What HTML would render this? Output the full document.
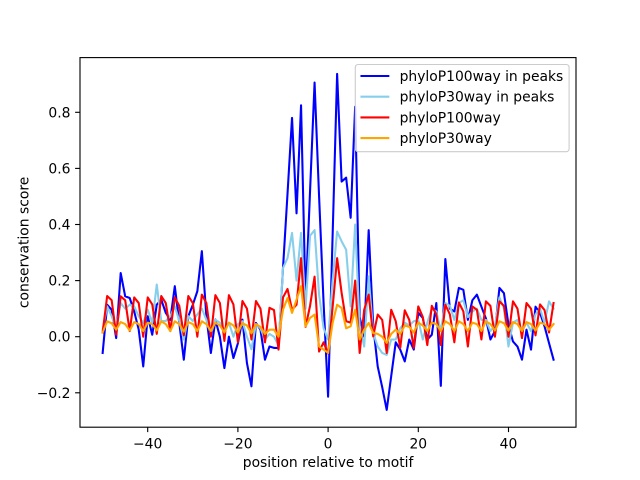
<!DOCTYPE html>
<html><head><meta charset="utf-8"><style>
html,body{margin:0;padding:0;background:#fff;}
svg{display:block;}
text{font-family:"DejaVu Sans","Liberation Sans",sans-serif;fill:#000;}
</style></head><body>
<svg width="640" height="480" viewBox="0 0 640 480" xmlns="http://www.w3.org/2000/svg">
<rect x="0" y="0" width="640" height="480" fill="#fff"/>
<g transform="translate(328.1,336.7) scale(4.509,-280.5)" fill="none" stroke-width="2.08" stroke-linejoin="round" stroke-linecap="square">
<polyline vector-effect="non-scaling-stroke" stroke="#0000ff" points="-50,-0.058 -49,0.114 -48,0.096 -47,-0.005 -46,0.227 -45,0.144 -44,0.138 -43,0.09 -42,0.025 -41,-0.106 -40,0.073 -39,0.007 -38,0.114 -37,0.132 -36,0.085 -35,0.06 -34,0.18 -33,0.049 -32,-0.082 -31,0.073 -30,0.114 -29,0.162 -28,0.305 -27,0.073 -26,-0.058 -25,0.061 -24,0.0 -23,-0.112 -22,0.0 -21,-0.076 -20,-0.023 -19,0.061 -18,-0.094 -17,-0.177 -16,0.049 -15,0.025 -14,-0.082 -13,-0.035 -12,-0.04 -11,-0.04 -10,0.245 -9,0.51 -8,0.78 -7,0.44 -6,0.825 -5,0.13 -4,0.52 -3,0.906 -2,0.5 -1,0.12 0,-0.214 1,0.36 2,0.937 3,0.553 4,0.567 5,0.424 6,0.82 7,0.07 8,0.0 9,0.38 10,0.04 11,-0.106 12,-0.18 13,-0.261 14,-0.14 15,-0.02 16,-0.046 17,-0.088 18,-0.01 19,-0.046 20,0.085 21,0.067 22,-0.01 23,0.007 24,0.12 25,-0.175 26,0.277 27,0.1 28,0.09 29,0.174 30,0.167 31,0.06 32,0.13 33,0.15 34,0.107 35,0.065 36,-0.01 37,0.02 38,0.174 39,0.155 40,0.043 41,-0.017 42,-0.035 43,-0.082 44,0.025 45,-0.046 46,0.107 47,0.085 48,0.037 49,-0.023 50,-0.082"/>
<polyline vector-effect="non-scaling-stroke" stroke="#87ceeb" points="-50,0.025 -49,0.108 -48,0.073 -47,0.03 -46,0.12 -45,0.1 -44,0.114 -43,0.108 -42,0.073 -41,0.049 -40,0.096 -39,0.05 -38,0.186 -37,0.056 -36,0.056 -35,0.073 -34,0.108 -33,0.056 -32,-0.01 -31,0.073 -30,0.056 -29,0.08 -28,0.1 -27,0.06 -26,0.01 -25,0.06 -24,0.05 -23,0.025 -22,0.05 -21,0.0 -20,0.045 -19,0.055 -18,0.0 -17,-0.045 -16,0.045 -15,0.03 -14,-0.01 -13,0.01 -12,0.0 -11,-0.03 -10,0.245 -9,0.28 -8,0.37 -7,0.2 -6,0.37 -5,0.1 -4,0.36 -3,0.38 -2,0.15 -1,0.03 0,-0.01 1,0.2 2,0.375 3,0.34 4,0.31 5,0.108 6,0.4 7,0.037 8,-0.035 9,0.215 10,0.013 11,-0.035 12,-0.058 13,-0.065 14,-0.01 15,-0.01 16,0.03 17,0.05 18,0.04 19,0.055 20,0.06 21,-0.01 22,0.05 23,0.1 24,0.09 25,0.02 26,0.12 27,0.11 28,0.06 29,0.12 30,0.13 31,0.07 32,0.09 33,0.1 34,0.06 35,0.06 36,0.02 37,0.04 38,0.14 39,0.1 40,-0.035 41,0.05 42,0.06 43,0.02 44,0.05 45,0.02 46,0.08 47,0.1 48,0.05 49,0.126 50,0.1"/>
<polyline vector-effect="non-scaling-stroke" stroke="#ff0000" points="-50,0.015 -49,0.145 -48,0.13 -47,0.007 -46,0.144 -45,0.13 -44,0.02 -43,0.14 -42,0.12 -41,0.0 -40,0.14 -39,0.115 -38,0.01 -37,0.145 -36,0.12 -35,0.02 -34,0.14 -33,0.11 -32,0.005 -31,0.145 -30,0.12 -29,0.0 -28,0.15 -27,0.12 -26,0.0 -25,0.148 -24,0.12 -23,-0.015 -22,0.148 -21,0.115 -20,-0.02 -19,0.127 -18,0.1 -17,-0.01 -16,0.127 -15,0.1 -14,-0.02 -13,0.103 -12,0.095 -11,-0.046 -10,0.14 -9,0.17 -8,0.096 -7,0.114 -6,0.28 -5,0.035 -4,0.11 -3,0.214 -2,-0.053 -1,-0.02 0,-0.06 1,0.105 2,0.28 3,0.156 4,0.055 5,0.05 6,0.2 7,-0.058 8,0.096 9,0.15 10,0.001 11,0.079 12,0.06 13,-0.058 14,0.096 15,0.055 16,-0.04 17,0.094 18,0.06 19,-0.04 20,0.108 21,0.07 22,-0.03 23,0.11 24,0.08 25,-0.03 26,0.114 27,0.08 28,-0.02 29,0.122 30,0.09 31,-0.035 32,0.108 33,0.096 34,-0.01 35,0.126 36,0.11 37,0.0 38,0.126 39,0.11 40,0.0 41,0.126 42,0.1 43,-0.005 44,0.12 45,0.1 46,0.005 47,0.115 48,0.095 49,0.015 50,0.12"/>
<polyline vector-effect="non-scaling-stroke" stroke="#ffa500" points="-50,0.015 -49,0.055 -48,0.048 -47,0.025 -46,0.052 -45,0.045 -44,0.022 -43,0.052 -42,0.045 -41,0.02 -40,0.05 -39,0.045 -38,0.022 -37,0.055 -36,0.045 -35,0.02 -34,0.055 -33,0.045 -32,0.018 -31,0.052 -30,0.045 -29,0.02 -28,0.055 -27,0.045 -26,0.02 -25,0.05 -24,0.04 -23,0.015 -22,0.05 -21,0.04 -20,0.015 -19,0.048 -18,0.04 -17,0.012 -16,0.045 -15,0.035 -14,0.01 -13,0.025 -12,0.025 -11,0.0 -10,0.096 -9,0.138 -8,0.085 -7,0.132 -6,0.18 -5,0.037 -4,0.067 -3,0.079 -2,-0.035 -1,-0.046 0,-0.058 1,0.049 2,0.114 3,0.102 4,0.03 5,0.037 6,0.096 7,-0.01 8,0.025 9,0.049 10,0.013 11,0.01 12,0.0 13,-0.022 14,0.01 15,0.025 16,0.01 17,0.04 18,0.035 19,0.015 20,0.05 21,0.04 22,0.02 23,0.05 24,0.045 25,0.02 26,0.055 27,0.045 28,0.02 29,0.055 30,0.045 31,0.02 32,0.05 33,0.045 34,0.02 35,0.055 36,0.045 37,0.022 38,0.055 39,0.048 40,0.022 41,0.052 42,0.045 43,0.02 44,0.052 45,0.045 46,0.022 47,0.05 48,0.045 49,0.025 50,0.045"/>
</g>
<!-- axes frame -->
<rect x="80" y="57.6" width="496" height="369.6" fill="none" stroke="#000" stroke-width="1.11"/>
<!-- x ticks -->
<g stroke="#000" stroke-width="1.11">
<line x1="147.7" y1="427.2" x2="147.7" y2="432.1"/>
<line x1="237.9" y1="427.2" x2="237.9" y2="432.1"/>
<line x1="328.1" y1="427.2" x2="328.1" y2="432.1"/>
<line x1="418.3" y1="427.2" x2="418.3" y2="432.1"/>
<line x1="508.5" y1="427.2" x2="508.5" y2="432.1"/>
<line x1="75.1" y1="392.8" x2="80" y2="392.8"/>
<line x1="75.1" y1="336.7" x2="80" y2="336.7"/>
<line x1="75.1" y1="280.6" x2="80" y2="280.6"/>
<line x1="75.1" y1="224.5" x2="80" y2="224.5"/>
<line x1="75.1" y1="168.4" x2="80" y2="168.4"/>
<line x1="75.1" y1="112.3" x2="80" y2="112.3"/>
</g>
<g font-size="13.89" text-anchor="middle">
<text x="147.7" y="448.5">−40</text>
<text x="237.9" y="448.5">−20</text>
<text x="328.1" y="448.5">0</text>
<text x="418.3" y="448.5">20</text>
<text x="508.5" y="448.5">40</text>
</g>
<g font-size="13.89" text-anchor="end">
<text x="70.5" y="397.8">−0.2</text>
<text x="70.5" y="341.7">0.0</text>
<text x="70.5" y="285.6">0.2</text>
<text x="70.5" y="229.5">0.4</text>
<text x="70.5" y="173.4">0.6</text>
<text x="70.5" y="117.3">0.8</text>
</g>
<text x="328.1" y="467" font-size="13.89" text-anchor="middle">position relative to motif</text>
<text transform="translate(28.3,242.4) rotate(-90)" font-size="13.89" text-anchor="middle">conservation score</text>
<!-- legend -->
<rect x="355.3" y="64.5" width="213.8" height="87.2" rx="2.8" ry="2.8" fill="#fff" fill-opacity="0.8" stroke="#cccccc" stroke-width="1.11"/>
<g stroke-width="2.08" stroke-linecap="square">
<line x1="361.5" y1="76" x2="388.3" y2="76" stroke="#0000ff"/>
<line x1="361.5" y1="96.7" x2="388.3" y2="96.7" stroke="#87ceeb"/>
<line x1="361.5" y1="117.4" x2="388.3" y2="117.4" stroke="#ff0000"/>
<line x1="361.5" y1="138.1" x2="388.3" y2="138.1" stroke="#ffa500"/>
</g>
<g font-size="13.89">
<text x="399.6" y="80.9">phyloP100way in peaks</text>
<text x="399.6" y="101.6">phyloP30way in peaks</text>
<text x="399.6" y="122.3">phyloP100way</text>
<text x="399.6" y="143">phyloP30way</text>
</g>
</svg>
</body></html>
